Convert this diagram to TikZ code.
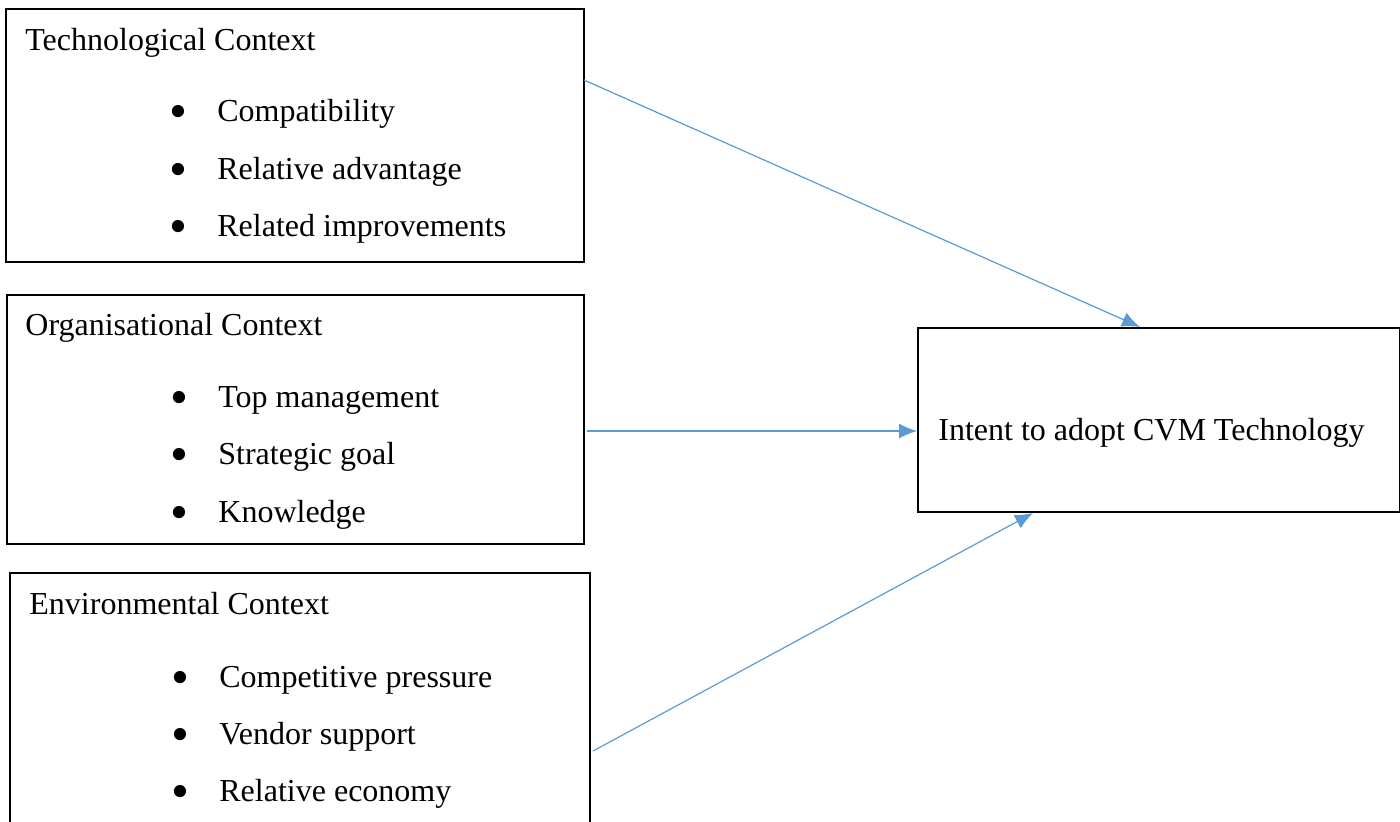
\documentclass[tikz,border=0pt]{standalone}
\usepackage{fontspec}
\setmainfont{Liberation Serif}
\usetikzlibrary{arrows.meta,positioning}
\definecolor{linkblue}{HTML}{5B9BD5}
\tikzset{>={Latex[length=9pt,width=7.5pt]}}
\newcommand{\bigdot}{\makebox[23pt][l]{\hspace{-1pt}\raisebox{-3.8pt}{\scalebox{1.6}{\textbullet}}}}

\begin{document}
\begin{tikzpicture}[x=0.5pt,y=-0.5pt,
    box/.style={draw,line width=1pt,inner sep=0pt,anchor=north west},
    txt/.style={font=\fontsize{16}{19}\selectfont,inner sep=0pt,anchor=base west},
    link/.style={->,linkblue,line width=0.6pt}]
    \useasboundingbox (0,0) rectangle (1400,821);

    % the three context boxes
    \node[box,minimum width=289pt,minimum height=126.5pt] (tech) at (5,8) {};
    \node[box,minimum width=288.5pt,minimum height=124.5pt] (org) at (6,294) {};
    \node[box,minimum width=290pt,minimum height=130pt] (env) at (9,572) {};
    \node[box,minimum width=241pt,minimum height=92pt] (intent) at (917,327) {};

    \node[txt] (techtitle) at (25,50) {Technological Context};
    \node[txt] (tech1) at (171,121) {\bigdot Compatibility};
    \node[txt] (tech2) at (171,179) {\bigdot Relative advantage};
    \node[txt] (tech3) at (171,236) {\bigdot Related improvements};

    \node[txt] (orgtitle) at (25,335) {Organisational Context};
    \node[txt] (org1) at (172,407) {\bigdot Top management};
    \node[txt] (org2) at (172,464) {\bigdot Strategic goal};
    \node[txt] (org3) at (172,522) {\bigdot Knowledge};

    \node[txt] (envtitle) at (29,614) {Environmental Context};
    \node[txt] (env1) at (173,687) {\bigdot Competitive pressure};
    \node[txt] (env2) at (173,744) {\bigdot Vendor support};
    \node[txt] (env3) at (173,801) {\bigdot Relative economy};

    \node[txt] (intenttext) at (938,440) {Intent to adopt CVM Technology};

    % arrows into the intent box
    \coordinate (techout) at (584,80);
    \coordinate (orgout) at (587,431);
    \coordinate (envout) at (593,751);
    \draw[link] (techout) -- ([xshift=111.5pt]intent.north west);
    \draw[link] (orgout) -- ([yshift=-5.5pt]intent.west);
    \draw[link] (envout) -- ([xshift=58pt]intent.south west);
\end{tikzpicture}
\end{document}
